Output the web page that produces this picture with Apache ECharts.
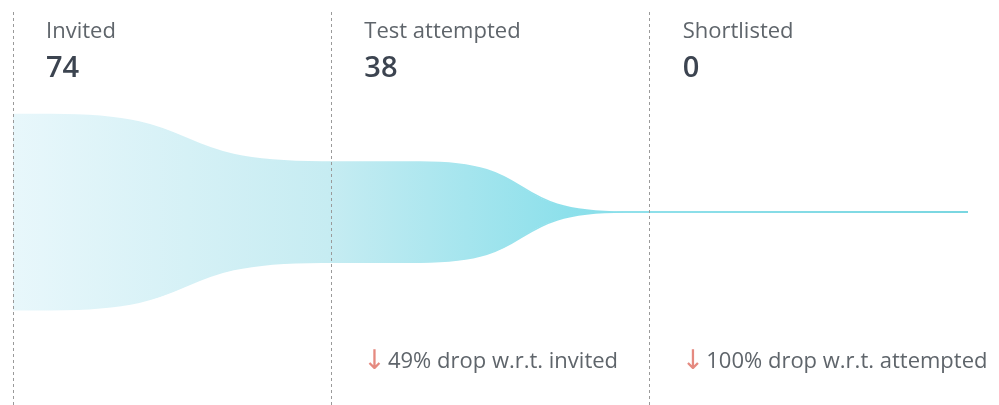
<!DOCTYPE html>
<html>
<head>
<meta charset="utf-8">
<script src="https://cdn.jsdelivr.net/npm/echarts@6/dist/echarts.min.js"></script>
<style>
  html, body { margin: 0; padding: 0; background: #fff; }
  #chart { width: 999px; height: 405px; }
</style>
</head>
<body>
<div id="chart"></div>
<script>
var stages = ['Invited', 'Test attempted', 'Shortlisted'];
var counts = [74, 38, 0];
var drops = ['', '49% drop w.r.t. invited', '100% drop w.r.t. attempted'];

// where each stage's plateau starts and ends, in column units
var holdIn = [0, 0.97, 1.92];
var holdOut = [0.12, 1.28, 3];

var upper = [], lower = [];
stages.forEach(function (s, i) {
    upper.push([holdIn[i], counts[i] / 2]);
    lower.push([holdIn[i], -counts[i] / 2]);
    upper.push([holdOut[i], counts[i] / 2]);
    lower.push([holdOut[i], -counts[i] / 2]);
});

var fill = new echarts.graphic.LinearGradient(0, 0, 1, 0, [
    { offset: 0, color: '#e8f7fb' },
    { offset: 0.33, color: '#c6ecf2' },
    { offset: 0.58, color: '#8de0eb' },
    { offset: 1, color: '#70d3de' }
]);

var chart = echarts.init(document.getElementById('chart'));

var option = {
    animation: false,
    textStyle: { fontFamily: 'Open Sans' },
    grid: { left: 13, right: 31, top: 12, bottom: 0 },
    xAxis: [
        {
            type: 'value', min: 0, max: 3, interval: 1, position: 'bottom',
            axisLine: { show: false }, axisTick: { show: false }, splitLine: { show: false },
            axisLabel: {
                inside: true, margin: 30, align: 'left', padding: [0, 0, 0, 32],
                formatter: function (v) {
                    var t = drops[v];
                    return t ? '{arr|↓}{txt|' + t + '}' : '';
                },
                rich: {
                    arr: { color: '#e58a80', fontSize: 27, fontFamily: 'DejaVu Sans', padding: [0, 2, 0, 0] },
                    txt: { color: '#5f656b', fontSize: 22, fontFamily: 'Open Sans' }
                }
            }
        },
        {
            type: 'value', min: 0, max: 3, interval: 1, position: 'top',
            axisLine: { show: false }, axisTick: { show: false }, splitLine: { show: false },
            axisLabel: {
                inside: true, margin: 3, align: 'left', verticalAlign: 'top', padding: [0, 0, 0, 33],
                formatter: function (v) {
                    if (v >= stages.length) return '';
                    return '{name|' + stages[v] + '}\n{val|' + counts[v] + '}';
                },
                rich: {
                    name: { color: '#5f656b', fontSize: 22, lineHeight: 34, fontFamily: 'Open Sans' },
                    val: { color: '#3c4450', fontSize: 29, lineHeight: 40, fontWeight: 600, fontFamily: 'Open Sans' }
                }
            }
        }
    ],
    yAxis: {
        type: 'value', min: -73.2, max: 75.9, show: false
    },
    series: [
        {
            type: 'line', data: upper, smooth: 0.6, symbol: 'none',
            lineStyle: { width: 1.6, color: fill },
            areaStyle: { color: fill, opacity: 1 },
            z: 2,
            markLine: {
                silent: true, symbol: 'none', label: { show: false },
                lineStyle: { color: '#9a9a9a', type: [3, 3], width: 1 },
                data: stages.map(function (s, i) { return { xAxis: i }; })
            }
        },
        {
            type: 'line', data: lower, smooth: 0.6, symbol: 'none',
            lineStyle: { width: 1.6, color: fill },
            areaStyle: { color: fill, opacity: 1 },
            z: 2
        }
    ]
};

chart.setOption(option);
</script>
</body>
</html>
